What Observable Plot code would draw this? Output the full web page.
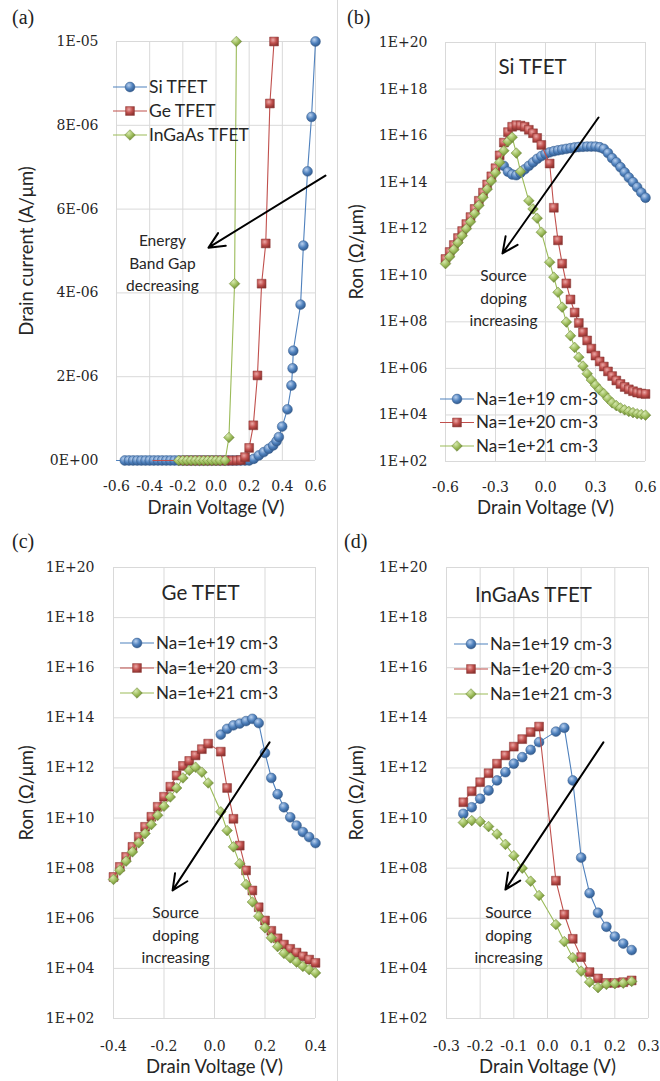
<!DOCTYPE html>
<html><head><meta charset="utf-8">
<script src="https://cdn.jsdelivr.net/npm/d3@7"></script>
<script src="https://cdn.jsdelivr.net/npm/@observablehq/plot@0.6"></script>
<style>
body{margin:0;background:#fff;}
#root{position:relative;width:660px;height:1081px;overflow:hidden;background:#fff;}
.panel{position:absolute;}
.plab{position:absolute;font-family:"Liberation Serif",serif;font-size:20px;color:#222;line-height:1;}
.legend{position:absolute;overflow:visible;}
.sep{position:absolute;left:337px;top:0;width:1px;height:1081px;background:#d9d9d9;}
</style></head><body>
<svg width="0" height="0" style="position:absolute">
<defs>
<radialGradient id="gBlue" cx="0.38" cy="0.32" r="0.7"><stop offset="0" stop-color="#b9d0ee"/><stop offset="0.55" stop-color="#4f81bd"/><stop offset="1" stop-color="#30598c"/></radialGradient>
<radialGradient id="gRed" cx="0.38" cy="0.32" r="0.7"><stop offset="0" stop-color="#eca9a7"/><stop offset="0.55" stop-color="#c0504d"/><stop offset="1" stop-color="#8c3330"/></radialGradient>
<radialGradient id="gGreen" cx="0.38" cy="0.32" r="0.7"><stop offset="0" stop-color="#d6e8ad"/><stop offset="0.55" stop-color="#9bbb59"/><stop offset="1" stop-color="#67822f"/></radialGradient>
</defs></svg>
<div id="root"><div class="sep"></div></div>
<script>
// ---------- Panel (a): drain current vs drain voltage ----------
const aXTicks = [-0.6, -0.4, -0.2, 0, 0.2, 0.4, 0.6];
const aYTicks = [0, 2e-6, 4e-6, 6e-6, 8e-6, 1e-5];
const aSiV = [-0.6,-0.55,-0.525,-0.5,-0.475,-0.45,-0.425,-0.4,-0.375,-0.35,-0.325,-0.3,-0.275,-0.25,-0.225,-0.2,-0.175,-0.15,-0.125,-0.1,-0.075,-0.05,-0.025,0,0.025,0.05,0.075,0.1,0.125,0.15,0.175,0.2,0.228,0.258,0.288,0.318,0.345,0.365,0.379,0.399,0.431,0.455,0.462,0.466,0.51,0.527,0.552,0.576,0.6];
const aSiI = [0,0,0,0,0,0,0,0,0,0,0,0,0,0,0,0,0,0,0,0,0,0,0,0,0,0,0,0,0,0,0,0,0.04e-6,0.12e-6,0.2e-6,0.28e-6,0.36e-6,0.46e-6,0.56e-6,0.81e-6,1.22e-6,1.79e-6,2.2e-6,2.62e-6,3.72e-6,5.13e-6,6.9e-6,8.2e-6,1.0e-5];
const aGeV = [-0.38,-0.2,-0.175,-0.15,-0.125,-0.1,-0.075,-0.05,-0.025,0,0.025,0.05,0.075,0.1,0.125,0.15,0.175,0.2,0.225,0.25,0.275,0.3,0.325,0.35];
const aGeI = [0,0,0,0,0,0,0,0,0,0,0,0,0,0,0,0.01e-6,0.08e-6,0.3e-6,0.84e-6,2.03e-6,4.22e-6,5.18e-6,8.52e-6,1.0e-5];
const aInV = [-0.225,-0.2,-0.175,-0.15,-0.125,-0.1,-0.075,-0.05,-0.025,0,0.025,0.055,0.078,0.112,0.123];
const aInI = [0,0,0,0,0,0,0,0,0,0,0,0,0.55e-6,4.22e-6,1.0e-5];
const aLegend = ["Si TFET", "Ge TFET", "InGaAs TFET"];

// ---------- Log-scale panels: log10(Ron) ----------
const logTicks = [1e2,1e4,1e6,1e8,1e10,1e12,1e14,1e16,1e18,1e20];
const dopingLegend = ["Na=1e+19 cm-3", "Na=1e+20 cm-3", "Na=1e+21 cm-3"];

// (b) Si TFET
const bXTicks = [-0.6, -0.3, 0, 0.3, 0.6];
const b19V = [-0.25,-0.225,-0.2,-0.175,-0.15,-0.125,-0.1,-0.075,-0.05,-0.025,0,0.025,0.05,0.075,0.1,0.125,0.15,0.175,0.2,0.225,0.25,0.275,0.3,0.325,0.35,0.375,0.4,0.425,0.45,0.475,0.5,0.525,0.55,0.575,0.6];
const b19Log = [14.7,14.45,14.33,14.3,14.4,14.55,14.7,14.85,15.0,15.12,15.22,15.28,15.33,15.37,15.4,15.43,15.46,15.49,15.51,15.52,15.53,15.53,15.53,15.5,15.43,15.25,15.03,14.85,14.64,14.42,14.2,14.0,13.78,13.55,13.33];
const b20V = [-0.6,-0.575,-0.55,-0.525,-0.5,-0.475,-0.45,-0.425,-0.4,-0.375,-0.35,-0.325,-0.3,-0.275,-0.25,-0.225,-0.2,-0.175,-0.15,-0.125,-0.1,-0.075,-0.05,-0.025,0.025,0.05,0.075,0.1,0.125,0.15,0.175,0.2,0.225,0.25,0.275,0.3,0.325,0.35,0.375,0.4,0.425,0.45,0.475,0.5,0.525,0.55,0.575,0.6];
const b20Log = [10.7,11.0,11.3,11.6,11.9,12.2,12.5,12.85,13.2,13.55,13.9,14.25,14.6,15.15,15.7,16.15,16.38,16.45,16.43,16.38,16.25,16.1,15.9,15.6,14.8,12.9,11.5,10.5,9.65,8.96,8.4,7.95,7.55,7.2,6.85,6.55,6.3,6.08,5.87,5.67,5.48,5.33,5.2,5.1,5.02,4.96,4.92,4.9];
const b21V = [-0.6,-0.575,-0.55,-0.525,-0.5,-0.475,-0.45,-0.425,-0.4,-0.375,-0.35,-0.325,-0.3,-0.275,-0.25,-0.225,-0.2,-0.175,-0.15,-0.1,-0.075,-0.05,-0.025,0.025,0.05,0.075,0.1,0.125,0.15,0.175,0.2,0.225,0.25,0.275,0.3,0.325,0.35,0.375,0.4,0.425,0.45,0.475,0.5,0.525,0.55,0.575,0.6];
const b21Log = [10.5,10.8,11.1,11.4,11.7,12.0,12.3,12.65,13.0,13.35,13.7,14.05,14.4,14.85,15.35,15.75,15.93,15.25,14.46,13.2,12.85,12.45,11.85,10.56,9.92,9.27,8.63,7.99,7.4,6.9,6.48,6.1,5.77,5.5,5.28,5.08,4.91,4.7,4.52,4.4,4.3,4.22,4.15,4.1,4.05,4.02,3.99];

// (c) Ge TFET
const cXTicks = [-0.4, -0.2, 0, 0.2, 0.4];
const c19V = [0.025,0.05,0.075,0.1,0.125,0.15,0.175,0.2,0.225,0.25,0.275,0.3,0.325,0.35,0.375,0.4];
const c19Log = [13.33,13.56,13.7,13.77,13.87,13.96,13.79,12.6,11.6,10.95,10.43,10.03,9.7,9.44,9.24,9.0];
const cV = [-0.4,-0.375,-0.35,-0.325,-0.3,-0.275,-0.25,-0.225,-0.2,-0.175,-0.15,-0.125,-0.1,-0.075,-0.05,-0.025,0.025,0.05,0.075,0.1,0.125,0.15,0.175,0.2,0.225,0.25,0.275,0.3,0.325,0.35,0.375,0.4];
const c20Log = [7.65,8.05,8.45,8.85,9.25,9.65,10.05,10.45,10.85,11.25,11.7,12.08,12.28,12.5,12.75,12.97,12.65,11.2,9.97,8.9,7.91,7.11,6.44,5.91,5.5,5.2,4.95,4.78,4.63,4.48,4.35,4.22];
const c21Log = [7.55,7.92,8.28,8.65,9.01,9.38,9.74,10.11,10.47,10.84,11.2,11.6,11.9,12.03,11.83,11.4,10.25,9.5,8.85,8.18,7.35,6.65,6.08,5.62,5.22,4.87,4.6,4.42,4.25,4.08,3.95,3.82];

// (d) InGaAs TFET
const dXTicks = [-0.3, -0.2, -0.1, 0, 0.1, 0.2, 0.3];
const dV = [-0.25,-0.225,-0.2,-0.175,-0.15,-0.125,-0.1,-0.075,-0.05,-0.025,0.025,0.05,0.075,0.1,0.125,0.15,0.175,0.2,0.225,0.25];
const d19Log = [10.17,10.43,10.77,11.1,11.5,11.83,12.17,12.43,12.72,13.03,13.45,13.6,11.5,8.42,7.0,6.22,5.66,5.27,4.99,4.73];
const d20Log = [10.63,11.07,11.43,11.79,12.17,12.5,12.85,13.15,13.43,13.65,7.5,6.15,5.18,4.45,3.85,3.6,3.42,3.42,3.45,3.52];
const d21Log = [9.82,9.9,9.86,9.66,9.36,8.95,8.5,8.0,7.48,6.91,5.75,5.07,4.43,3.89,3.45,3.23,3.36,3.39,3.41,3.48];

// ---------- Annotations ----------
const aArrow = [{x1: 0.66, y1: 6.8e-6, x2: -0.045, y2: 5.08e-6}];
const aNote = [{x: -0.323, y: 4.75e-6, text: "Energy\nBand Gap\ndecreasing"}];
const bArrow = [{x1: 0.318, y1: 6e16, x2: -0.258, y2: 8.7e10}];
const bNote = [{x: -0.252, y: 1.2e9, text: "Source\ndoping\nincreasing"}];
const cArrow = [{x1: 0.218, y1: 1.05e13, x2: -0.166, y2: 1.3e7}];
const cNote = [{x: -0.154, y: 2.5e5, text: "Source\ndoping\nincreasing"}];
const dArrow = [{x1: 0.166, y1: 1.05e13, x2: -0.125, y2: 1.4e7}];
const dNote = [{x: -0.116, y: 2.5e5, text: "Source\ndoping\nincreasing"}];

// ---------- Styles ----------
const STY = {
  blue:  {color: "#4f81bd", dark: "#385d8a", grad: "url(#gBlue)",  symbol: "circle",   r: 4.9},
  red:   {color: "#c0504d", dark: "#8c3836", grad: "url(#gRed)",   symbol: "square",   r: 5.0},
  green: {color: "#9bbb59", dark: "#71893f", grad: "url(#gGreen)", symbol: "diamond2", r: 4.8}
};
const TXT = "#262626";

const rows = (vs, ys) => vs.map((v, i) => ({v, y: ys[i]}));
const rowsLog = (vs, ls) => vs.map((v, i) => ({v, y: 10 ** ls[i]}));
const fmtExp = d => {
  if (d === 0) return "0E+00";
  const e = Math.floor(Math.log10(Math.abs(d)) + 1e-9);
  const m = Math.round(d / 10 ** e);
  return m + "E" + (e < 0 ? "-" : "+") + String(Math.abs(e)).padStart(2, "0");
};

const root = document.getElementById("root");

function panel(cfg) {
  const marks = [
    Plot.ruleX(cfg.xTicks, {stroke: "#d9d9d9", strokeWidth: 1}),
    Plot.ruleY(cfg.yTicks, {stroke: "#d9d9d9", strokeWidth: 1})
  ];
  for (const s of cfg.series) {
    const st = STY[s.style];
    marks.push(Plot.line(s.data, {x: "v", y: "y", stroke: st.color, strokeWidth: 1.1}));
    const dd = s.markFrom == null ? s.data : s.data.filter(d => d.v >= s.markFrom);
    marks.push(Plot.dot(dd, {x: "v", y: "y", symbol: st.symbol, r: st.r, fill: st.color, stroke: st.dark, strokeWidth: 0.5}));
  }
  marks.push(Plot.arrow(cfg.arrow, {x1: "x1", y1: "y1", x2: "x2", y2: "y2", stroke: "#000", strokeWidth: 2, headLength: 13, headAngle: 50}));
  marks.push(Plot.text(cfg.note, {x: "x", y: "y", text: "text", fontFamily: "Lato", fontSize: 15.5, lineHeight: 1.45, fill: TXT}));
  if (cfg.title) marks.push(Plot.text([cfg.title], {text: d => d, frameAnchor: "top", lineAnchor: "middle", dx: cfg.titleDx, dy: cfg.titleDy, fontFamily: "Lato", fontSize: 20.5, fill: TXT}));
  marks.push(Plot.text(["Drain Voltage (V)"], {text: d => d, frameAnchor: "bottom", lineAnchor: "middle", dy: cfg.xLabelDy, fontFamily: "Lato", fontSize: 18.5, fill: TXT}));
  marks.push(Plot.text([cfg.yLabel], {text: d => d, frameAnchor: "left", textAnchor: "middle", lineAnchor: "middle", dx: cfg.yLabelDx, rotate: -90, fontFamily: "Lato", fontSize: 18.5, fill: TXT}));

  const svg = Plot.plot({
    width: cfg.width, height: cfg.height,
    marginTop: cfg.mt, marginBottom: cfg.mb, marginLeft: cfg.ml, marginRight: cfg.mr,
    style: {fontFamily: "DejaVu Serif", fontSize: "14px", color: TXT, background: "transparent", overflow: "visible"},
    x: {domain: cfg.xDomain, ticks: cfg.xTicks, tickFormat: d => d.toFixed(1), tickSize: 0, tickPadding: cfg.xPad, label: null},
    y: {type: cfg.yType, domain: cfg.yDomain, ticks: cfg.yTicks, tickFormat: fmtExp, tickSize: 0, tickPadding: cfg.yPad, label: null},
    marks
  });
  // 3-D looking marker fill (gradient)
  svg.querySelectorAll('g[aria-label="dot"]').forEach(g => {
    const f = (g.getAttribute("fill") || "").toLowerCase();
    for (const k in STY) if (STY[k].color === f) g.setAttribute("fill", STY[k].grad);
  });
  const wrap = document.createElement("div");
  wrap.className = "panel";
  wrap.style.left = cfg.left + "px";
  wrap.style.top = cfg.top + "px";
  wrap.appendChild(svg);
  root.appendChild(wrap);
}

function legend(left, top, labels, gap, fontSize) {
  const styles = ["blue", "red", "green"];
  const w = 200, h = gap * 3 + 10;
  const svg = d3.create("svg").attr("class", "legend").attr("width", w).attr("height", h)
    .style("left", left + "px").style("top", (top - 12) + "px");
  labels.forEach((lab, i) => {
    const st = STY[styles[i]];
    const y = 12 + i * gap;
    svg.append("line").attr("x1", 0).attr("x2", 34).attr("y1", y).attr("y2", y).attr("stroke", st.color).attr("stroke-width", 1.1);
    const type = st.symbol === "circle" ? d3.symbolCircle : st.symbol === "square" ? d3.symbolSquare : d3.symbolDiamond2;
    svg.append("path").attr("d", d3.symbol(type, st.r * st.r * Math.PI)()).attr("transform", `translate(17,${y})`)
      .attr("fill", st.grad).attr("stroke", st.dark).attr("stroke-width", 0.5);
    svg.append("text").attr("x", 36).attr("y", y).attr("dy", "0.35em").attr("font-family", "Lato").attr("font-size", fontSize)
      .attr("fill", TXT).text(lab);
  });
  root.appendChild(svg.node());
}

function plab(t, x, y) {
  const d = document.createElement("div");
  d.className = "plab"; d.textContent = t;
  d.style.left = x + "px"; d.style.top = y + "px";
  root.appendChild(d);
}

// (a)
panel({left: 0, top: 0, width: 330, height: 530, mt: 41, mb: 70, ml: 116, mr: 15,
  xDomain: [-0.6, 0.6], xTicks: aXTicks, yType: "linear", yDomain: [0, 1e-5], yTicks: aYTicks,
  xPad: 21, yPad: 18, xLabelDy: 48, yLabel: "Drain current (A/\u03bcm)", yLabelDx: -89,
  series: [
    {style: "blue", data: rows(aSiV, aSiI), markFrom: -0.55},
    {style: "red", data: rows(aGeV, aGeI), markFrom: -0.2},
    {style: "green", data: rows(aInV, aInI)}
  ], arrow: aArrow, note: aNote});
// (b)
panel({left: 330, top: 0, width: 330, height: 530, mt: 42, mb: 69, ml: 115, mr: 15,
  xDomain: [-0.6, 0.6], xTicks: bXTicks, yType: "log", yDomain: [1e2, 1e20], yTicks: logTicks,
  xPad: 21, yPad: 18, xLabelDy: 47, yLabel: "Ron (\u03a9/\u03bcm)", yLabelDx: -88,
  title: "Si TFET", titleDx: -13, titleDy: 25,
  series: [
    {style: "blue", data: rowsLog(b19V, b19Log)},
    {style: "red", data: rowsLog(b20V, b20Log)},
    {style: "green", data: rowsLog(b21V, b21Log)}
  ], arrow: bArrow, note: bNote});
// (c)
panel({left: 0, top: 530, width: 330, height: 551, mt: 37, mb: 63, ml: 113, mr: 15,
  xDomain: [-0.4, 0.4], xTicks: cXTicks, yType: "log", yDomain: [1e2, 1e20], yTicks: logTicks,
  xPad: 23, yPad: 19, xLabelDy: 49, yLabel: "Ron (\u03a9/\u03bcm)", yLabelDx: -86,
  title: "Ge TFET", titleDx: -14, titleDy: 26,
  series: [
    {style: "blue", data: rowsLog(c19V, c19Log)},
    {style: "red", data: rowsLog(cV, c20Log)},
    {style: "green", data: rowsLog(cV, c21Log)}
  ], arrow: cArrow, note: cNote});
// (d)
panel({left: 330, top: 530, width: 330, height: 551, mt: 37, mb: 63, ml: 116, mr: 12,
  xDomain: [-0.3, 0.3], xTicks: dXTicks, yType: "log", yDomain: [1e2, 1e20], yTicks: logTicks,
  xPad: 23, yPad: 19, xLabelDy: 49, yLabel: "Ron (\u03a9/\u03bcm)", yLabelDx: -89,
  title: "InGaAs TFET", titleDx: -14, titleDy: 28,
  series: [
    {style: "blue", data: rowsLog(dV, d19Log)},
    {style: "red", data: rowsLog(dV, d20Log)},
    {style: "green", data: rowsLog(dV, d21Log)}
  ], arrow: dArrow, note: dNote});

legend(113, 87, aLegend, 24, 17.5);
legend(440, 399, dopingLegend, 23.5, 17);
legend(120, 643, dopingLegend, 25, 17);
legend(454, 644, dopingLegend, 25, 17);

plab("(a)", 12, 7);
plab("(b)", 347, 7);
plab("(c)", 12, 531);
plab("(d)", 344, 531);
</script></body></html>
